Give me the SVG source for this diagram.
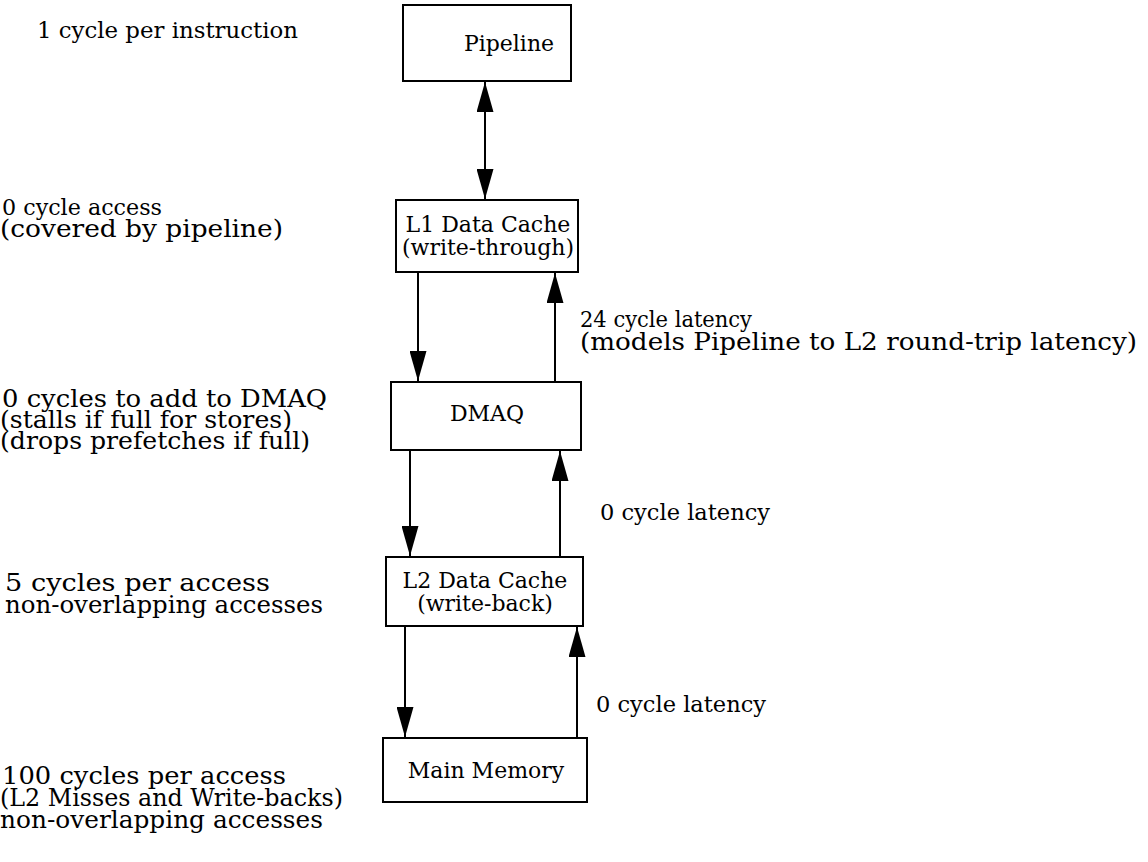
<svg xmlns="http://www.w3.org/2000/svg" width="1148" height="862" viewBox="0 0 1148 862">
<defs>
<style>
.box{fill:#fff;stroke:#000;stroke-width:2}
.t{font-family:"DejaVu Serif","Liberation Serif",serif;font-size:24px;fill:#000}
.s{font-size:23px}
.b{font-family:"DejaVu Serif","Liberation Serif",serif;font-size:22px;fill:#000;text-anchor:middle}
.ln{stroke:#000;stroke-width:2;fill:none}
</style>
<marker id="ah" viewBox="0 0 30 17" refX="30" refY="8.5" markerWidth="30" markerHeight="17" markerUnits="userSpaceOnUse" orient="auto-start-reverse">
<path d="M0,0 L30,8.5 L0,17 Z" fill="#000"/>
</marker>
</defs>
<rect width="1148" height="862" fill="#fff"/>
<g id="connectors">
<line class="ln" x1="485" y1="82" x2="485" y2="199" marker-start="url(#ah)" marker-end="url(#ah)"/>
<line class="ln" x1="418" y1="273" x2="418" y2="381" marker-end="url(#ah)"/>
<line class="ln" x1="555" y1="381" x2="555" y2="273" marker-end="url(#ah)"/>
<line class="ln" x1="410" y1="451" x2="410" y2="556" marker-end="url(#ah)"/>
<line class="ln" x1="560" y1="556" x2="560" y2="451" marker-end="url(#ah)"/>
<line class="ln" x1="405" y1="627" x2="405" y2="737" marker-end="url(#ah)"/>
<line class="ln" x1="577" y1="737" x2="577" y2="627" marker-end="url(#ah)"/>
</g>
<g id="pipeline">
<rect class="box" x="403" y="5" width="168" height="76"/>
<text class="b" x="509" y="51">Pipeline</text>
</g>
<g id="l1">
<rect class="box" x="396" y="200" width="182" height="72"/>
<text class="b" x="488" y="232">L1 Data Cache</text>
<text class="b" x="488" y="255">(write-through)</text>
</g>
<g id="dmaq">
<rect class="box" x="391" y="382" width="190" height="68"/>
<text class="b" x="487" y="421">DMAQ</text>
</g>
<g id="l2">
<rect class="box" x="386" y="557" width="197" height="69"/>
<text class="b" x="485" y="588">L2 Data Cache</text>
<text class="b" x="485" y="611">(write-back)</text>
</g>
<g id="mainmem">
<rect class="box" x="383" y="738" width="204" height="64"/>
<text class="b" x="486" y="778">Main Memory</text>
</g>
<g id="annotations">
<text class="t s" x="37" y="38" textLength="261" lengthAdjust="spacingAndGlyphs">1 cycle per instruction</text>
<text class="t s" x="2" y="215" textLength="160" lengthAdjust="spacingAndGlyphs">0 cycle access</text>
<text class="t" x="0" y="237" textLength="283" lengthAdjust="spacingAndGlyphs">(covered by pipeline)</text>
<text class="t s" x="580" y="327" textLength="172" lengthAdjust="spacingAndGlyphs">24 cycle latency</text>
<text class="t" x="580" y="350" textLength="557" lengthAdjust="spacingAndGlyphs">(models Pipeline to L2 round-trip latency)</text>
<text class="t" x="2" y="407" textLength="325" lengthAdjust="spacingAndGlyphs">0 cycles to add to DMAQ</text>
<text class="t" x="0" y="428" textLength="292" lengthAdjust="spacingAndGlyphs">(stalls if full for stores)</text>
<text class="t" x="0" y="449" textLength="310" lengthAdjust="spacingAndGlyphs">(drops prefetches if full)</text>
<text class="t s" x="600" y="520" textLength="170" lengthAdjust="spacingAndGlyphs">0 cycle latency</text>
<text class="t" x="5" y="591" textLength="265" lengthAdjust="spacingAndGlyphs">5 cycles per access</text>
<text class="t" x="5" y="613" textLength="318" lengthAdjust="spacingAndGlyphs">non-overlapping accesses</text>
<text class="t s" x="596" y="712" textLength="170" lengthAdjust="spacingAndGlyphs">0 cycle latency</text>
<text class="t" x="2" y="784" textLength="284" lengthAdjust="spacingAndGlyphs">100 cycles per access</text>
<text class="t" x="0" y="806" textLength="343" lengthAdjust="spacingAndGlyphs">(L2 Misses and Write-backs)</text>
<text class="t" x="0" y="828" textLength="323" lengthAdjust="spacingAndGlyphs">non-overlapping accesses</text>
</g>
</svg>
